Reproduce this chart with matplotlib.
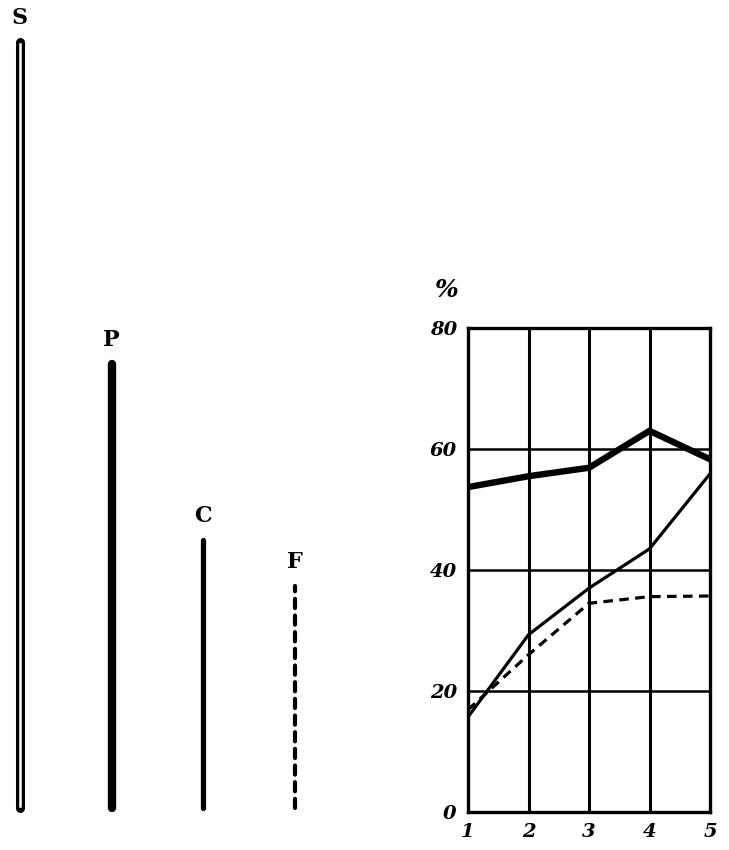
import matplotlib.pyplot as plt

# --- data ---
bar_labels = ["S", "P", "C", "F"]
bar_heights = [100, 58, 35, 29]

x_vals = [1, 2, 3, 4, 5]
p_vals = [53.7, 55.5, 56.9, 63.0, 58.3]
c_vals = [15.7, 29.3, 37.0, 43.5, 55.9]
f_vals = [16.9, 26.0, 34.5, 35.6, 35.7]

y_ticks = [0, 20, 40, 60, 80]
x_tick_labels = ["1", "2", "3", "4", "5"]

W, H = 729, 850
fig = plt.figure(figsize=(W / 100, H / 100), dpi=100)

label_font = dict(family="DejaVu Serif", weight="bold", fontsize=16)
tick_font = dict(family="DejaVu Serif", weight="bold", style="italic", fontsize=14)

# --- left panel: style key bars ---
axl = fig.add_axes([0, 0, 330 / W, 1])
axl.set_xlim(-0.218, 3.38)
axl.set_ylim(-5.48, 105.5)
axl.axis("off")

xs = range(len(bar_labels))
# S: double (hollow) line
axl.plot([0, 0], [0, bar_heights[0]], color="black", lw=6.5, solid_capstyle="round")
axl.plot([0, 0], [0.3, bar_heights[0] - 0.3], color="white", lw=1.8)
# P: heavy line
axl.plot([1, 1], [0, bar_heights[1]], color="black", lw=6, solid_capstyle="round")
# C: medium line
axl.plot([2, 2], [0, bar_heights[2]], color="black", lw=3.8, solid_capstyle="round")
# F: dashed line
axl.plot([3, 3], [0, bar_heights[3]], color="black", lw=3, ls=(0, (2.2, 1.8)),
         dash_capstyle="round")

for x, lab, h in zip(xs, bar_labels, bar_heights):
    axl.text(x, h + 1.7, lab, ha="center", va="bottom", **label_font)

# --- right panel: line chart ---
ax = fig.add_axes([468 / W, (H - 812) / H, (710 - 468) / W, (812 - 328) / H])
ax.set_xlim(1, 5)
ax.set_ylim(0, 80)

ax.plot(x_vals, p_vals, color="black", lw=4.6, solid_joinstyle="miter")
ax.plot(x_vals, c_vals, color="black", lw=2.3)
ax.plot(x_vals, f_vals, color="black", lw=2.3, ls=(0, (3, 2)))

for v in x_vals[1:-1]:
    ax.axvline(v, color="black", lw=2.2, zorder=0)
for v in y_ticks[1:-1]:
    ax.axhline(v, color="black", lw=1.8, zorder=0)
for s in ax.spines.values():
    s.set_linewidth(2.4)

ax.set_xticks(x_vals)
ax.set_xticklabels(x_tick_labels, **tick_font)
ax.set_yticks(y_ticks)
ax.set_yticklabels([str(v) for v in y_ticks], **tick_font)
ax.tick_params(length=0, pad=8)

fig.text(447 / W, 1 - 290 / H, "%", ha="center", va="center",
         family="DejaVu Serif", weight="bold", style="italic", fontsize=18)

fig.savefig("out.png", dpi=100)
